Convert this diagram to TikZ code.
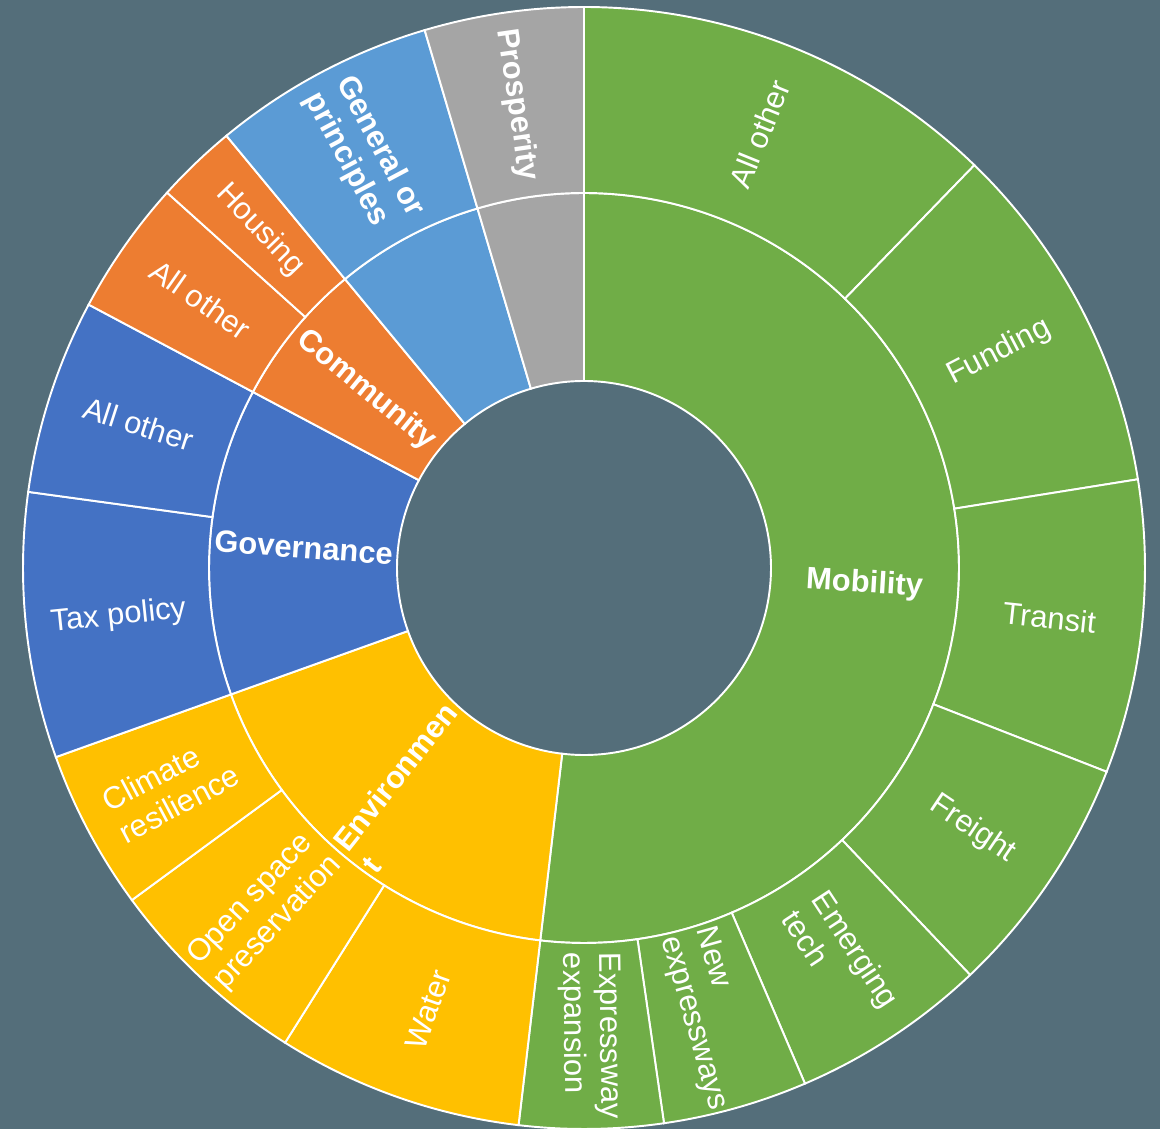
\documentclass[tikz,border=0pt]{standalone}
\usepackage{fontspec}
\setmainfont{Liberation Sans}

\definecolor{bg}{HTML}{546E7A}
\definecolor{mobgreen}{HTML}{70AD47}
\definecolor{envgold}{HTML}{FFC000}
\definecolor{govblue}{HTML}{4472C4}
\definecolor{comorange}{HTML}{ED7D31}
\definecolor{genblue}{HTML}{5B9BD5}
\definecolor{prosgray}{HTML}{A5A5A5}

\newcommand{\ringseg}[5]{\filldraw[#1] (#2:#4) arc (#2:#3:#4) -- (#3:#5) arc (#3:#2:#5) -- cycle;}

\begin{document}
\begin{tikzpicture}[x=0.02cm, y=0.02cm,
    seg/.style={draw=white, line width=1.1pt},
    lbl/.style={text=white, font=\fontsize{17.6}{20.5}\selectfont, align=left, inner sep=0pt},
    cat/.style={lbl, font=\fontsize{17.6}{20.5}\selectfont\bfseries}]
    \fill[bg] (-584,-561) rectangle (576,568);
    \useasboundingbox (-584,-561) rectangle (576,568);

    \foreach \a/\b/\c in {-96.7/90/mobgreen, 199.7/263.3/envgold, 152/199.7/govblue,
        129.6/152/comorange, 106.5/129.6/genblue, 90/106.5/prosgray} {
        \ringseg{seg, fill=\c}{\a}{\b}{187}{375}
    }

    \foreach \a/\b/\c in {45.9/90/mobgreen, 9.1/45.9/mobgreen, -21.3/9.1/mobgreen,
        -46.5/-21.3/mobgreen, -66.8/-46.5/mobgreen, -81.8/-66.8/mobgreen, -96.7/-81.8/mobgreen,
        237.8/263.3/envgold, 216.3/237.8/envgold, 199.7/216.3/envgold,
        172.2/199.7/govblue, 152/172.2/govblue,
        138/152/comorange, 129.6/138/comorange,
        106.5/129.6/genblue, 90/106.5/prosgray} {
        \ringseg{seg, fill=\c}{\a}{\b}{375}{561}
    }

    \foreach \a/\b/\txt [count=\i] in {-96.7/90/Mobility, 199.7/263.3/Environmen\\t,
        152/199.7/Governance, 129.6/152/Community} {
        \pgfmathsetmacro\m{(\a+\b)/2}
        \pgfmathsetmacro\rot{\m>90 ? \m-180 : \m}
        \node[cat, rotate=\rot] (mid\i) at (\m:281) {\txt};
    }

    \foreach \a/\b/\txt [count=\i] in {45.9/90/All other, 9.1/45.9/Funding, -21.3/9.1/Transit,
        -46.5/-21.3/Freight, -66.8/-46.5/Emerging\\tech, -81.8/-66.8/New\\expressways,
        -96.7/-81.8/Expressway\\expansion,
        237.8/263.3/Water, 216.3/237.8/Open space\\preservation, 199.7/216.3/Climate\\resilience,
        172.2/199.7/Tax policy, 152/172.2/All other,
        138/152/All other, 129.6/138/Housing} {
        \pgfmathsetmacro\m{(\a+\b)/2}
        \pgfmathsetmacro\rot{\m>90 ? \m-180 : \m}
        \node[lbl, rotate=\rot] (out\i) at (\m:468) {\txt};
    }

    \node[cat, rotate=-61.95] (gen) at (118.05:468) {General or\\principles};
    \node[cat, rotate=-81.75] (pros) at (98.25:468) {Prosperity};
\end{tikzpicture}
\end{document}
